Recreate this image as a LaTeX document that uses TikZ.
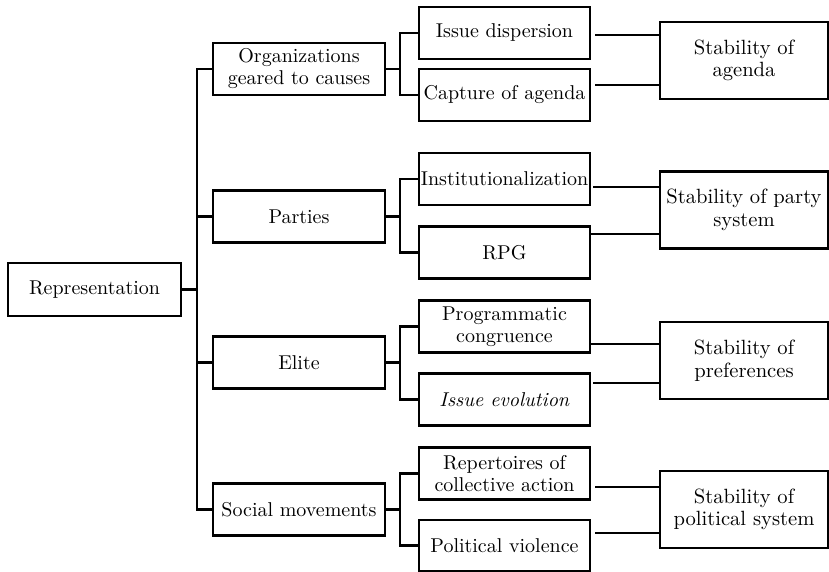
\documentclass[tikz,border=0pt]{standalone}
\begin{document}
\begin{tikzpicture}[x=0.5pt,y=-0.5pt,
 every node/.style={font=\fontsize{10}{11}\selectfont},
 box/.style={draw, line width=1.1pt, inner sep=0pt, align=center, minimum height=26pt},
 lvlzero/.style={box, minimum width=86.5pt, minimum height=26.5pt},
 lvlone/.style={box, minimum width=86pt},
 lvltwo/.style={box, minimum width=85.5pt},
 lvlthree/.style={box, minimum width=84pt, minimum height=38.5pt, font=\fontsize{10.3}{11.3}\selectfont},
 conn/.style={line width=1.1pt}]
\useasboundingbox (0,0) rectangle (829,572);
% level 0
\node[lvlzero] (rep) at (94.5,289.5) {Representation};
% level 1
\node[lvlone] (org) at (299,69) {Organizations\\geared to causes};
\node[lvlone] (par) at (299,216.5) {Parties};
\node[lvlone] (eli) at (299,362.5) {Elite};
\node[lvlone] (soc) at (299,509.5) {Social movements};
% level 2
\node[lvltwo] (iss) at (504.5,33) {Issue dispersion};
\node[lvltwo] (cap) at (504.5,95) {Capture of agenda};
\node[lvltwo] (ins) at (504.5,179) {Institutionalization};
\node[lvltwo] (rpg) at (504.5,252.5) {RPG};
\node[lvltwo] (pro) at (504.5,326.5) {Programmatic\\congruence};
\node[lvltwo] (evo) at (504.5,399.5) {\textit{Issue evolution}};
\node[lvltwo] (rca) at (504.5,473.5) {Repertoires of\\collective action};
\node[lvltwo, minimum height=25.5pt] (vio) at (504.5,545.5) {Political violence};
% level 3
\node[lvlthree] (sag) at (744,60.5) {Stability of\\agenda};
\node[lvlthree] (spa) at (744,210) {Stability of party\\system};
\node[lvlthree] (spr) at (744,360.5) {Stability of\\preferences};
\node[lvlthree] (sps) at (744,509.5) {Stability of\\political system};
% helper coordinates
\coordinate (tx) at (197,0);
\coordinate (bx) at (400,0);
% trunk
\draw[conn] (rep.east) -- (rep.east -| tx);
\draw[conn] (org.west) -- (org.west -| tx) -- (soc.west -| tx) -- (soc.west);
\draw[conn] (par.west) -- (par.west -| tx);
\draw[conn] (eli.west) -- (eli.west -| tx);
% brackets
\draw[conn] (org.east) -- (org.east -| bx);
\draw[conn] (iss.west) -- (iss.west -| bx) -- (cap.west -| bx) -- (cap.west);
\draw[conn] (par.east) -- (par.east -| bx);
\draw[conn] (ins.west) -- (ins.west -| bx) -- (rpg.west -| bx) -- (rpg.west);
\draw[conn] (eli.east) -- (eli.east -| bx);
\draw[conn] (pro.west) -- (pro.west -| bx) -- (evo.west -| bx) -- (evo.west);
\draw[conn] (soc.east) -- (soc.east -| bx);
\draw[conn] (rca.west) -- (rca.west -| bx) -- (vio.west -| bx) -- (vio.west);
% to level 3
\coordinate (ya) at (0,35);
\coordinate (yb) at (0,85);
\coordinate (yc) at (0,187);
\coordinate (yd) at (0,234);
\coordinate (ye) at (0,344);
\coordinate (yf) at (0,383);
\coordinate (yg) at (0,487);
\coordinate (yh) at (0,533);
\draw[conn] ([xshift=2pt]iss.east |- ya) -- (sag.west |- ya);
\draw[conn] ([xshift=2pt]cap.east |- yb) -- (sag.west |- yb);
\draw[conn] ([xshift=1pt]ins.east |- yc) -- (spa.west |- yc);
\draw[conn] (rpg.east |- yd) -- (spa.west |- yd);
\draw[conn] (pro.east |- ye) -- (spr.west |- ye);
\draw[conn] ([xshift=1pt]evo.east |- yf) -- (spr.west |- yf);
\draw[conn] ([xshift=2pt]rca.east |- yg) -- (sps.west |- yg);
\draw[conn] ([xshift=2pt]vio.east |- yh) -- (sps.west |- yh);
\end{tikzpicture}
\end{document}
